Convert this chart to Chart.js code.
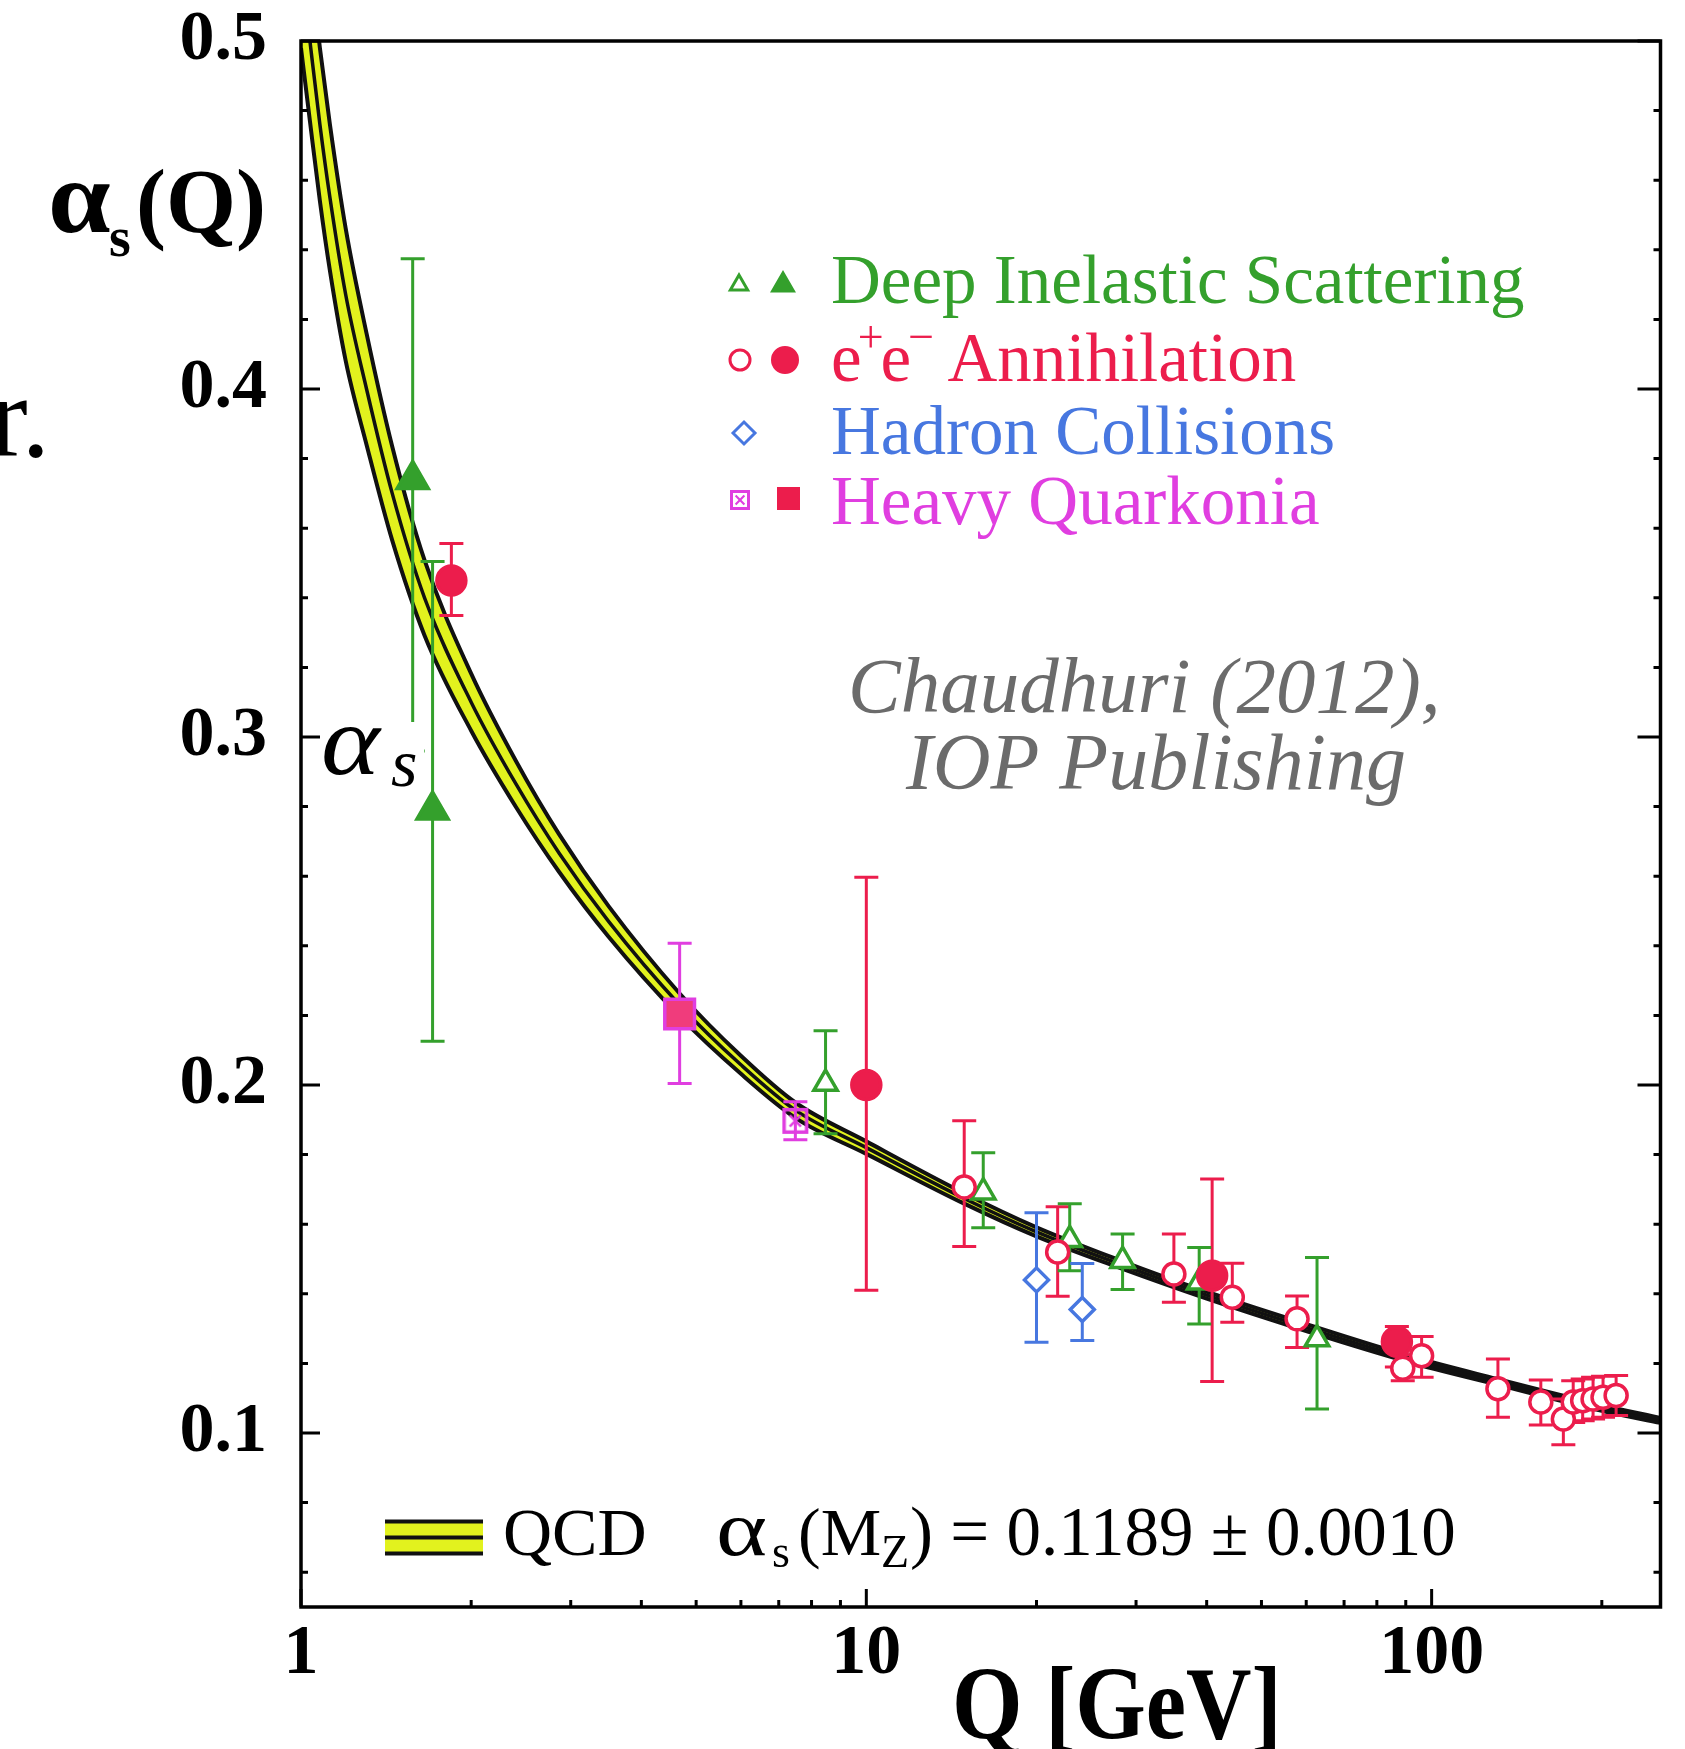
<!DOCTYPE html>
<html>
<head>
<meta charset="utf-8">
<title>alpha_s running</title>
<script src="https://cdn.jsdelivr.net/npm/chart.js@4.4.0/dist/chart.umd.min.js"></script>
<style>
  html, body { margin: 0; padding: 0; background: #fff; }
  canvas { display: block; }
</style>
</head>
<body>
<canvas id="alphaChart" width="1685" height="1749"></canvas>
<script>
// QCD running coupling: central curve and half width of the band
var qcdQ        = [1.0, 1.037, 1.08, 1.125, 1.2, 1.306, 1.45, 1.654, 2.0, 2.4, 2.862, 3.5, 4.675, 6.0, 7.5, 10, 14.9, 20, 28, 40, 60, 91, 130, 200, 254];
var qcdAlpha    = [0.522, 0.500, 0.476, 0.455, 0.427, 0.400, 0.370, 0.340, 0.310, 0.2865, 0.2666, 0.247, 0.223, 0.2058, 0.1927, 0.182, 0.1674, 0.1578, 0.1486, 0.1396, 0.1303, 0.1213, 0.1148, 0.1072, 0.1036];
var qcdHalfWidth = [0.024, 0.023, 0.022, 0.021, 0.019, 0.016, 0.0135, 0.0108, 0.0082, 0.0066, 0.0054, 0.0044, 0.0033, 0.0026, 0.0022, 0.0018, 0.0015, 0.0013, 0.0011, 0.0010, 0.0010, 0.0009, 0.0008, 0.0008, 0.0007];

// measurements: [Q, alpha_s, error bar low, error bar high]
var disOpen = [
  [8.47, 0.2004, 0.1860, 0.2156],
  [16.1, 0.1692, 0.1590, 0.1805],
  [22.9, 0.1555, 0.1466, 0.1659],
  [28.4, 0.1495, 0.1412, 0.1572],
  [38.8, 0.1433, 0.1313, 0.1533],
  [62.7, 0.1270, 0.1069, 0.1504]
];
var disFilled = [
  [1.576, 0.3740, 0.2960, 0.4374],
  [1.709, 0.2790, 0.2126, 0.3504]
];
var eeOpen = [
  [14.9, 0.1707, 0.1536, 0.1897],
  [21.8, 0.1520, 0.1393, 0.1650],
  [35.0, 0.1457, 0.1376, 0.1572],
  [44.4, 0.1390, 0.1318, 0.1488],
  [57.8, 0.1328, 0.1246, 0.1394],
  [88.9, 0.1186, 0.1150, 0.1225],
  [96.0, 0.1222, 0.1160, 0.1277],
  [131, 0.1127, 0.1045, 0.1213],
  [156, 0.1089, 0.1023, 0.1152],
  [171, 0.1040, 0.0966, 0.1098],
  [178, 0.1089, 0.1030, 0.1150],
  [185, 0.1093, 0.1035, 0.1155],
  [193, 0.1098, 0.1040, 0.1160],
  [201, 0.1103, 0.1045, 0.1163],
  [212, 0.1108, 0.1050, 0.1165]
];
var eeFilled = [
  [1.845, 0.3450, 0.3349, 0.3556],
  [10.0, 0.2000, 0.1410, 0.2597],
  [40.9, 0.1452, 0.1148, 0.1730],
  [86.8, 0.1262, 0.1190, 0.1306]
];
var hadronOpen = [
  [20.0, 0.1440, 0.1261, 0.1633],
  [24.1, 0.1355, 0.1266, 0.1487]
];
var quarkoniaFilled = [
  [4.675, 0.2204, 0.2004, 0.2407]
];
var quarkoniaBoxed = [
  [7.49, 0.1897, 0.1843, 0.1952]
];

var xMajorTicks = [1, 10, 100];
var xMinorTicks = [2, 3, 4, 5, 6, 7, 8, 9, 20, 30, 40, 50, 60, 70, 80, 90, 200];
var yMajorTicks = [0.1, 0.2, 0.3, 0.4, 0.5];
var yMinorTicks = [0.06, 0.08, 0.12, 0.14, 0.16, 0.18, 0.22, 0.24, 0.26, 0.28, 0.32, 0.34, 0.36, 0.38, 0.42, 0.44, 0.46, 0.48];

var GREEN = '#34a02c', RED = '#ec1d4c', BLUE = '#4777e0', MAGENTA = '#e03ee0', YELLOW = '#e2f21e';
var SERIF = '"Liberation Serif", "Times New Roman", serif';

function toPoints(rows) {
  return rows.map(function (r) { return { x: r[0], y: r[1], lo: r[2], hi: r[3] }; });
}

// crossed square marker for the open quarkonia point
function boxedSquare(size, lw) {
  var c = document.createElement('canvas');
  c.width = size; c.height = size;
  var g = c.getContext('2d');
  var m = lw / 2 + 1;
  g.strokeStyle = MAGENTA;
  g.lineWidth = lw;
  g.strokeRect(m, m, size - 2 * m, size - 2 * m);
  g.lineWidth = lw * 0.7;
  g.beginPath();
  g.moveTo(size * 0.3, size * 0.3); g.lineTo(size * 0.7, size * 0.7);
  g.moveTo(size * 0.7, size * 0.3); g.lineTo(size * 0.3, size * 0.7);
  g.stroke();
  return c;
}
var boxedBig = boxedSquare(28, 3.5);
var boxedSmall = boxedSquare(22, 3);

function scatterSet(rows, style, radius, fill, border, barColor) {
  return {
    type: 'scatter',
    data: toPoints(rows),
    order: 0,
    pointStyle: style,
    pointRadius: radius,
    pointHoverRadius: radius,
    pointBackgroundColor: fill,
    pointBorderColor: border,
    pointBorderWidth: 3.5,
    errorColor: barColor || border,
    errorBars: true
  };
}

function bandLine(sign) {
  return qcdQ.map(function (q, i) { return { x: q, y: qcdAlpha[i] + sign * qcdHalfWidth[i] }; });
}

var datasets = [
  scatterSet(eeOpen, 'circle', 11, '#fff', RED),
  scatterSet(eeFilled, 'circle', 14.5, RED, RED),
  scatterSet(disOpen, 'triangle', 13.5, '#fff', GREEN),
  scatterSet(disFilled, 'triangle', 18, GREEN, GREEN),
  scatterSet(hadronOpen, 'rectRot', 12, '#fff', BLUE),
  scatterSet(quarkoniaBoxed, boxedBig, 14, '#fff', MAGENTA),
  scatterSet(quarkoniaFilled, 'rect', 21, '#f03c7c', MAGENTA),
  { type: 'line', data: bandLine(1), order: 1, borderColor: '#111', borderWidth: 4, pointRadius: 0,
    cubicInterpolationMode: 'monotone', fill: '+2', backgroundColor: YELLOW },
  { type: 'line', data: bandLine(0), order: 1, borderColor: '#111', borderWidth: 3.5, pointRadius: 0,
    cubicInterpolationMode: 'monotone', fill: false },
  { type: 'line', data: bandLine(-1), order: 1, borderColor: '#111', borderWidth: 4, pointRadius: 0,
    cubicInterpolationMode: 'monotone', fill: false }
];
// the last scatter set is drawn first, so all error bars go down just before it
datasets[6].drawAllBars = true;

var errorBars = {
  id: 'errorBars',
  beforeDatasetDraw: function (chart, args) {
    var ds = chart.data.datasets[args.index];
    if (!ds.drawAllBars) return;
    var ctx = chart.ctx, xs = chart.scales.x, ys = chart.scales.y;
    ctx.save();
    ctx.lineWidth = 3;
    chart.data.datasets.forEach(function (set) {
      if (!set.errorBars) return;
      ctx.strokeStyle = set.errorColor;
      set.data.forEach(function (d) {
        var px = xs.getPixelForValue(d.x);
        var top = ys.getPixelForValue(d.hi), bot = ys.getPixelForValue(d.lo);
        ctx.beginPath();
        ctx.moveTo(px, top); ctx.lineTo(px, bot);
        ctx.moveTo(px - 12, top); ctx.lineTo(px + 12, top);
        ctx.moveTo(px - 12, bot); ctx.lineTo(px + 12, bot);
        ctx.stroke();
      });
    });
    ctx.restore();
  }
};

// frame with inward ticks on bottom, left and right
var frame = {
  id: 'frame',
  afterDatasetsDraw: function (chart) {
    var ctx = chart.ctx, a = chart.chartArea, xs = chart.scales.x, ys = chart.scales.y;
    ctx.save();
    ctx.strokeStyle = '#000';
    ctx.lineWidth = 3;
    ctx.beginPath();
    xMajorTicks.concat(xMinorTicks).forEach(function (v) {
      var len = xMajorTicks.indexOf(v) >= 0 ? 18 : 7;
      var px = xs.getPixelForValue(v);
      ctx.moveTo(px, a.bottom); ctx.lineTo(px, a.bottom - len);
    });
    yMajorTicks.concat(yMinorTicks).forEach(function (v) {
      var len = yMajorTicks.indexOf(v) >= 0 ? 19 : 7;
      var py = ys.getPixelForValue(v);
      ctx.moveTo(a.left, py); ctx.lineTo(a.left + len, py);
      ctx.moveTo(a.right, py); ctx.lineTo(a.right - len - (len > 10 ? 4 : 0), py);
    });
    ctx.stroke();
    ctx.lineWidth = 3.5;
    ctx.strokeRect(a.left, a.top, a.right - a.left, a.bottom - a.top);
    ctx.restore();
  }
};

// text helper; sx stretches the glyphs sideways
function put(ctx, text, x, y, size, color, weight, style, sx) {
  sx = sx || 1;
  ctx.font = (style || 'normal') + ' ' + (weight || 'normal') + ' ' + size + 'px ' + SERIF;
  ctx.fillStyle = color;
  ctx.save();
  ctx.translate(x, y);
  ctx.scale(sx, 1);
  ctx.fillText(text, 0, 0);
  ctx.restore();
  return x + ctx.measureText(text).width * sx;
}

function marker(ctx, style, x, y, r, fill, stroke) {
  if (typeof style !== 'string') {
    ctx.drawImage(style, x - style.width / 2, y - style.height / 2);
    return;
  }
  ctx.fillStyle = fill;
  ctx.strokeStyle = stroke;
  ctx.lineWidth = 3;
  Chart.helpers.drawPoint(ctx, { pointStyle: style, radius: r, rotation: 0, borderWidth: 3 }, x, y);
}

var annotations = {
  id: 'annotations',
  afterDraw: function (chart) {
    var ctx = chart.ctx;
    ctx.save();
    ctx.textBaseline = 'alphabetic';
    ctx.textAlign = 'left';

    // axis titles
    put(ctx, 'α', 48, 232, 104, '#000', 'bold', 'normal', 1.08);
    put(ctx, 's', 109, 256, 56, '#000', 'bold');
    put(ctx, '(Q)', 136, 232, 90, '#000', 'bold');
    put(ctx, 'Q [GeV]', 952, 1738, 103, '#000', 'bold', 'normal', 0.88);

    // stray text at the left edge
    put(ctx, 'r.', -11, 456, 116, '#000');

    // alpha_s label on a white patch
    ctx.fillStyle = '#fff';
    ctx.fillRect(321, 722, 103, 74);
    put(ctx, 'α', 321, 774, 100, '#000', 'normal', 'italic', 1.12);
    put(ctx, 's', 391, 786, 68, '#000', 'normal', 'italic');

    // source note
    put(ctx, 'Chaudhuri (2012),', 848, 712, 79, '#6b6b6b', 'normal', 'italic');
    put(ctx, 'IOP Publishing', 906, 789, 80, '#6b6b6b', 'normal', 'italic');

    // legend of the measurement groups
    marker(ctx, 'triangle', 739, 285, 10, '#fff', GREEN);
    marker(ctx, 'triangle', 783, 285, 12, GREEN, GREEN);
    put(ctx, 'Deep Inelastic Scattering', 831, 303, 69, GREEN);

    marker(ctx, 'circle', 740, 360, 10, '#fff', RED);
    marker(ctx, 'circle', 785, 360, 12.5, RED, RED);
    var x = put(ctx, 'e', 831, 381, 69, RED);
    x = put(ctx, '+', x - 4, 352, 46, RED);
    x = put(ctx, 'e', x - 3, 381, 69, RED);
    x = put(ctx, '−', x - 3, 352, 46, RED);
    put(ctx, ' Annihilation', x - 4, 381, 69, RED);

    marker(ctx, 'rectRot', 744, 433, 11, '#fff', BLUE);
    put(ctx, 'Hadron Collisions', 831, 454, 69, BLUE);

    marker(ctx, boxedSmall, 740, 500);
    ctx.fillStyle = RED;
    ctx.fillRect(777, 487, 23, 23);
    put(ctx, 'Heavy Quarkonia', 831, 524, 69, MAGENTA);

    // QCD band key and fit value
    ctx.fillStyle = YELLOW;
    ctx.fillRect(385, 1520, 98, 35);
    ctx.strokeStyle = '#111';
    ctx.lineWidth = 4;
    ctx.beginPath();
    [1521.5, 1537.5, 1553.5].forEach(function (y) { ctx.moveTo(385, y); ctx.lineTo(483, y); });
    ctx.stroke();
    put(ctx, 'QCD', 503, 1555, 68, '#000');
    put(ctx, 'α', 716, 1555, 78, '#000', 'normal', 'normal', 1.25);
    put(ctx, 's', 772, 1567, 46, '#000');
    x = put(ctx, '(M', 798, 1555, 68, '#000');
    put(ctx, 'Z', x, 1567, 46, '#000');
    put(ctx, ') = 0.1189 ± 0.0010', 910, 1555, 69, '#000');

    ctx.restore();
  }
};

var tickFont = { family: SERIF, size: 70, weight: 'bold' };

new Chart(document.getElementById('alphaChart').getContext('2d'), {
  type: 'scatter',
  data: { datasets: datasets },
  options: {
    responsive: false,
    animation: false,
    events: [],
    layout: { padding: { left: 0, right: 20, top: 41, bottom: 0 } },
    plugins: {
      legend: { display: false },
      tooltip: { enabled: false },
      filler: { drawTime: 'beforeDatasetsDraw' }
    },
    scales: {
      x: {
        type: 'logarithmic',
        min: 1,
        max: 254,
        grid: { display: false, drawTicks: false },
        border: { display: false },
        afterBuildTicks: function (s) { s.ticks = xMajorTicks.map(function (v) { return { value: v }; }); },
        afterFit: function (s) { s.height = 142; s.paddingLeft = 0; s.paddingRight = 0; },
        ticks: {
          autoSkip: false, maxRotation: 0, padding: 6, color: '#000', font: tickFont,
          callback: function (v) { return String(v); }
        }
      },
      y: {
        min: 0.05,
        max: 0.5,
        grid: { display: false, drawTicks: false },
        border: { display: false },
        afterBuildTicks: function (s) { s.ticks = yMajorTicks.map(function (v) { return { value: v }; }); },
        afterFit: function (s) { s.width = 301; s.paddingTop = 0; s.paddingBottom = 0; },
        ticks: {
          padding: 34, color: '#000', font: tickFont,
          callback: function (v) { return v.toFixed(1); }
        }
      }
    }
  },
  plugins: [errorBars, frame, annotations]
});
</script>
</body>
</html>
